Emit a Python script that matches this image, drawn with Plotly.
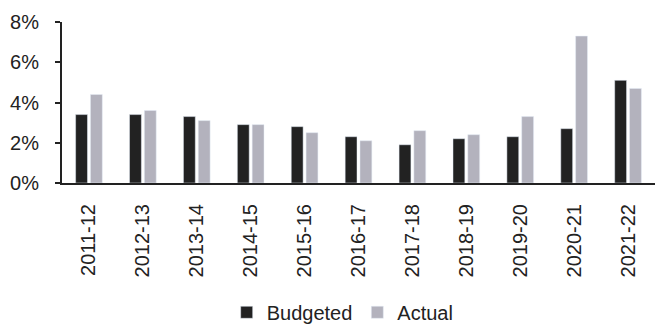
import plotly.graph_objects as go

categories = ["2011-12", "2012-13", "2013-14", "2014-15", "2015-16", "2016-17",
              "2017-18", "2018-19", "2019-20", "2020-21", "2021-22"]
budgeted = [3.4, 3.4, 3.3, 2.9, 2.8, 2.3, 1.9, 2.2, 2.3, 2.7, 5.1]
actual = [4.4, 3.6, 3.1, 2.9, 2.5, 2.1, 2.6, 2.4, 3.3, 7.3, 4.7]
y_ticks = [0, 2, 4, 6, 8]
y_tick_labels = ["0%", "2%", "4%", "6%", "8%"]

FONT = "Liberation Sans, Arial, sans-serif"

fig = go.Figure()
fig.add_trace(go.Bar(name="Budgeted", x=categories, y=budgeted, marker_color="#222222"))
fig.add_trace(go.Bar(name="Actual", x=categories, y=actual, marker_color="#b3b2bd"))

fig.update_layout(
    width=659, height=327,
    margin=dict(l=62, r=4, t=22, b=144, autoexpand=False),
    paper_bgcolor="white", plot_bgcolor="white",
    barmode="group", bargap=0.45, bargroupgap=0.2,
    font=dict(family=FONT, color="#222222", size=19),
    showlegend=True,
    legend=dict(orientation="h", xref="container", yref="container",
                x=0.52, xanchor="center", y=0.045, yanchor="middle",
                font=dict(size=20, family=FONT, color="#222222"),
                itemwidth=30, tracegroupgap=0),
)
fig.update_xaxes(
    type="category", automargin=False,
    showline=True, linecolor="#222222", linewidth=2,
    showgrid=False, ticks="", tickangle=-90,
    tickfont=dict(size=20, family=FONT, color="#222222"),
    ticklabelstandoff=11,
)
fig.update_yaxes(
    range=[0, 8], tickvals=y_ticks, ticktext=y_tick_labels, automargin=False,
    showline=True, linecolor="#222222", linewidth=2,
    showgrid=False, zeroline=False,
    ticks="outside", ticklen=5, tickwidth=2, tickcolor="#222222",
    tickfont=dict(size=20, family=FONT, color="#222222"),
    ticklabelstandoff=12,
)

fig.write_html("out.html", config={"displayModeBar": False},
               post_script="document.body.style.margin='0';")
